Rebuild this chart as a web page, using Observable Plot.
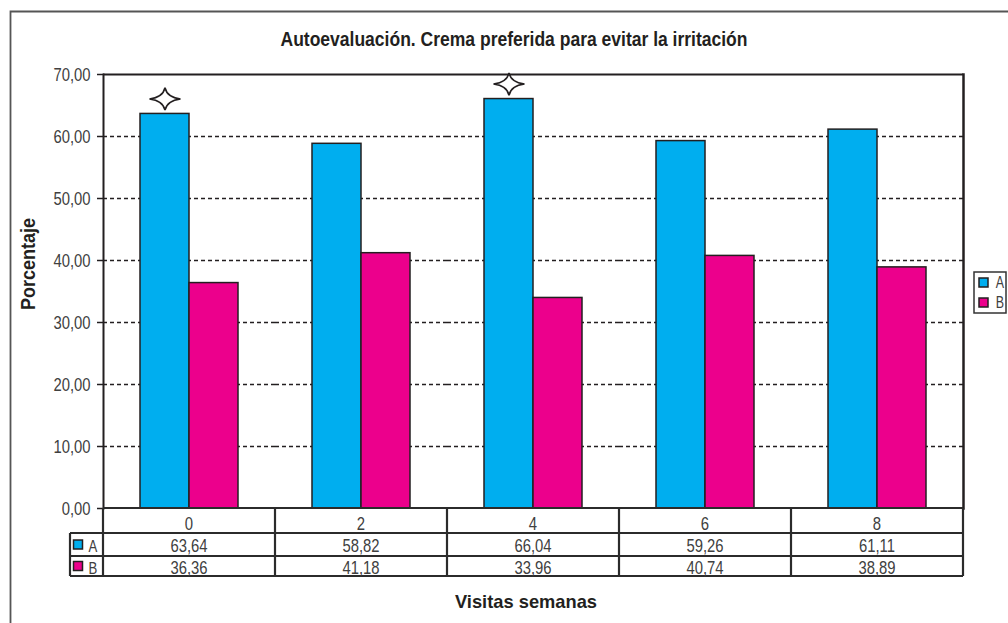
<!DOCTYPE html>
<html>
<head>
<meta charset="utf-8">
<script src="https://cdn.jsdelivr.net/npm/d3@7"></script>
<script src="https://cdn.jsdelivr.net/npm/@observablehq/plot@0.6"></script>
<style>
  html, body { margin: 0; padding: 0; background: #fff; }
  #chart { position: relative; width: 1008px; height: 623px; overflow: hidden; }
</style>
</head>
<body>
<div id="chart"></div>
<script>
// Weeks of visit (categories) and the two creams compared
const weeks = ["0", "2", "4", "6", "8"];
const seriesNames = ["A", "B"];
const valuesA = [63.64, 58.82, 66.04, 59.26, 61.11];
const valuesB = [36.36, 41.18, 33.96, 40.74, 38.89];
// Weeks where cream A carries a significance marker
const starredA = ["0", "4"];
const seriesColors = ["#00aeef", "#ec008c"];
const yTicks = [0, 10, 20, 30, 40, 50, 60, 70];

const titleText = "Autoevaluación. Crema preferida para evitar la irritación";
const yLabelText = "Porcentaje";
const xLabelText = "Visitas semanas";

const FONT = '"Liberation Sans", Arial, sans-serif';
const INK = "#231f20";
const TEXT_GRAY = "#404040";

const values = {A: valuesA, B: valuesB};
const rows = weeks.flatMap((w, i) => seriesNames.map(s => ({week: w, serie: s, value: values[s][i]})));
const fmt = v => d3.format(".2f")(v).replace(".", ",");

// Four-pointed star with concave sides
const star4 = {
  draw(ctx, size) {
    const rx = Math.sqrt(size / Math.PI);
    const ry = rx * 0.72;
    const k = 0.14;
    ctx.moveTo(rx, 0);
    ctx.quadraticCurveTo(k * rx, -k * ry, 0, -ry);
    ctx.quadraticCurveTo(-k * rx, -k * ry, -rx, 0);
    ctx.quadraticCurveTo(-k * rx, k * ry, 0, ry);
    ctx.quadraticCurveTo(k * rx, k * ry, rx, 0);
    ctx.closePath();
  }
};

const plot = Plot.plot({
  width: 1008,
  height: 623,
  marginLeft: 103,
  marginRight: 45,
  marginTop: 74,
  marginBottom: 115,
  style: {fontFamily: FONT, fontSize: "19px", color: TEXT_GRAY, background: "white", overflow: "visible"},
  fx: {domain: weeks, padding: 0, axis: null, label: null},
  x: {domain: seriesNames, paddingInner: 0, paddingOuter: 0.755, axis: null, label: null},
  y: {domain: [0, 70], label: null},
  color: {domain: seriesNames, range: seriesColors},
  marks: [
    Plot.gridY(yTicks.filter(t => t > 0 && t < 70), {stroke: INK, strokeOpacity: 1, strokeWidth: 1.4, strokeDasharray: "4,3"}),
    Plot.axisY({ticks: yTicks, tickFormat: fmt, tickSize: 6, tickPadding: 7, stroke: INK, strokeWidth: 1.5, label: null}),
    Plot.barY(rows, {fx: "week", x: "serie", y: "value", fill: "serie", stroke: INK, strokeWidth: 1.5}),
    Plot.dot(rows.filter(d => d.serie === "A" && starredA.includes(d.week)),
      {fx: "week", x: "serie", y: "value", dy: -15, symbol: star4, r: 15.5, fill: "white", stroke: INK, strokeWidth: 1.6}),
    Plot.ruleY([70], {stroke: INK, strokeWidth: 2}),
    Plot.frame({anchor: "right", facetAnchor: "right", stroke: INK, strokeWidth: 2.5}),
    Plot.frame({anchor: "left", facetAnchor: "left", stroke: INK, strokeWidth: 2})
  ]
});

document.getElementById("chart").appendChild(plot);

// Data table under the axis, aligned on the facet bands
const svg = d3.select(plot);
const fxScale = plot.scale("fx");
const yScale = plot.scale("y");
const bw = fxScale.bandwidth;
const left = fxScale.apply(weeks[0]);
const right = fxScale.apply(weeks[weeks.length - 1]) + bw;
const y0 = yScale.apply(0);
const rowEdges = [y0, y0 + 25, y0 + 48, y0 + 68];
const keyLeft = left - 33;

const tbl = svg.append("g").attr("stroke", "#2b2b2b").attr("stroke-width", 2.2).attr("fill", "none");
// horizontal rules
tbl.append("line").attr("x1", left).attr("x2", right).attr("y1", rowEdges[0]).attr("y2", rowEdges[0]);
for (let r = 1; r < rowEdges.length; r++)
  tbl.append("line").attr("x1", keyLeft).attr("x2", right).attr("y1", rowEdges[r]).attr("y2", rowEdges[r]);
// vertical rules
tbl.append("line").attr("x1", keyLeft).attr("x2", keyLeft).attr("y1", rowEdges[1]).attr("y2", rowEdges[3]);
tbl.append("line").attr("x1", left).attr("x2", left).attr("y1", rowEdges[0]).attr("y2", rowEdges[3]);
weeks.forEach(w => {
  const xr = fxScale.apply(w) + bw;
  tbl.append("line").attr("x1", xr).attr("x2", xr).attr("y1", rowEdges[0]).attr("y2", rowEdges[3]);
});

const txt = svg.append("g").attr("class", "narrow").attr("font-family", FONT).attr("font-size", 19)
  .attr("fill", TEXT_GRAY).attr("text-anchor", "middle");
const baselines = [rowEdges[0] + 22, rowEdges[1] + 19, rowEdges[2] + 18];
weeks.forEach((w, i) => {
  const cx = fxScale.apply(w) + bw / 2;
  txt.append("text").attr("x", cx).attr("y", baselines[0]).text(w);
  seriesNames.forEach((s, j) => {
    txt.append("text").attr("x", cx).attr("y", baselines[j + 1]).text(fmt(values[s][i]));
  });
});
// key column of the table
seriesNames.forEach((s, j) => {
  const top = rowEdges[j + 1];
  const h = rowEdges[j + 2] - top;
  svg.append("rect").attr("x", keyLeft + 3.5).attr("y", top + h / 2 - 4.5).attr("width", 9).attr("height", 9)
    .attr("fill", seriesColors[j]).attr("stroke", INK).attr("stroke-width", 1.5);
  txt.append("text").attr("x", keyLeft + 23).attr("y", baselines[j + 1]).attr("font-size", 17).text(s);
});

// Legend at the right
const lg = svg.append("g");
const lgX = right + 11, lgY = 272;
lg.append("rect").attr("x", lgX).attr("y", lgY).attr("width", 32).attr("height", 41)
  .attr("fill", "white").attr("stroke", "#333").attr("stroke-width", 1.5);
seriesNames.forEach((s, j) => {
  lg.append("rect").attr("x", lgX + 5).attr("y", lgY + 6 + j * 20).attr("width", 9).attr("height", 9)
    .attr("fill", seriesColors[j]).attr("stroke", INK).attr("stroke-width", 1.5);
  lg.append("text").attr("class", "narrow").attr("x", lgX + 26).attr("y", lgY + 16 + j * 20)
    .attr("text-anchor", "middle").attr("font-family", FONT)
    .attr("font-size", 16).attr("fill", TEXT_GRAY).text(s);
});

// Condensed look for the tick and table labels
function condense(node, factor) {
  const len = node.getComputedTextLength();
  if (len > 0) {
    node.setAttribute("textLength", (len * factor).toFixed(1));
    node.setAttribute("lengthAdjust", "spacingAndGlyphs");
  }
}
svg.selectAll('g[aria-label="y-axis tick label"] text').each(function() { condense(this, 0.78); });
svg.selectAll(".narrow text, text.narrow").each(function() { condense(this, 0.78); });

// Titles, fitted to a condensed width
function title(text, x, y, size, width, rotate) {
  const t = svg.append("text")
    .attr("transform", `translate(${x},${y})` + (rotate ? " rotate(-90)" : ""))
    .attr("text-anchor", "middle").attr("font-family", FONT).attr("font-weight", "bold")
    .attr("font-size", size).attr("fill", INK).text(text);
  t.attr("textLength", width).attr("lengthAdjust", "spacingAndGlyphs");
  return t;
}
title(titleText, 514, 46, 21, 467);
title(xLabelText, 526, 608, 18.5, 142);
title(yLabelText, 35, 264, 19.5, 92, true);

// Outer border (open to the right and bottom)
svg.append("path").attr("d", "M10.5,623 V11.5 H1008").attr("fill", "none").attr("stroke", "#555").attr("stroke-width", 1.8);
</script>
</body>
</html>
